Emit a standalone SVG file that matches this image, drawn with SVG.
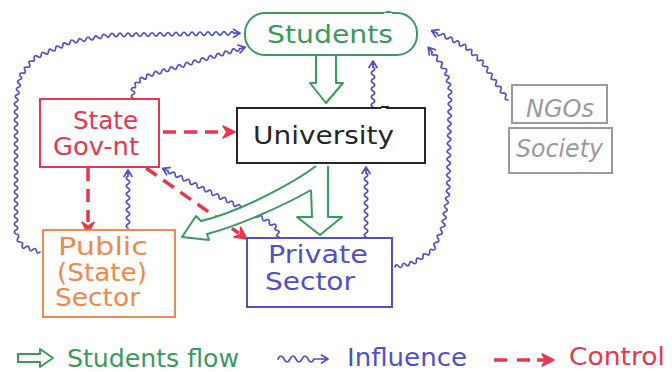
<svg xmlns="http://www.w3.org/2000/svg" xmlns:xlink="http://www.w3.org/1999/xlink" width="672" height="372" viewBox="0 0 672 372">
  <style>
    text { font-family: "DejaVu Sans", "Noto Sans", sans-serif; font-size: 24px; }
    .box { fill: #fff; stroke-width: 2; }
    .green { stroke: #3a9a5c; } .tgreen { fill: #3a9a5c; }
    .red { stroke: #e5384f; } .tred { fill: #e5384f; }
    .orange { stroke: #f0894c; } .torange { fill: #f0894c; }
    .blue { stroke: #5151c6; } .tblue { fill: #5151c6; }
    .black { stroke: #262626; } .tblack { fill: #262626; }
    .grey { stroke: #9a9a9a; } .tgrey { fill: #9a9a9a; font-style: italic; }
    .flow { fill: #fff; stroke: #3a9a5c; stroke-width: 2; stroke-linejoin: round; }
    .infl { fill: none; stroke: #5151c6; stroke-width: 1.7; stroke-linecap: round; stroke-linejoin: round; }
    .ctrl { fill: none; stroke: #e5384f; stroke-width: 3.5; stroke-dasharray: 13 8; }
    .ctrlhead { fill: #e5384f; stroke: #e5384f; stroke-width: 1.5; stroke-linejoin: round; }
  </style>
  <defs>
    <filter id="rough" x="-15%" y="-15%" width="130%" height="130%">
      <feTurbulence type="fractalNoise" baseFrequency="0.04" numOctaves="2" seed="4" result="n"/>
      <feDisplacementMap in="SourceGraphic" in2="n" scale="1.6" xChannelSelector="R" yChannelSelector="G"/>
    </filter>
    <!-- open head for influence connectors, tip at origin pointing +x -->
    <path id="ih" d="M-6.5 -4 L0 0 L-6.5 4 M-6 0 L0 0"/>
    <!-- solid head for control connectors -->
    <path id="ch" d="M0 0 L-12 -6 L-8 0 L-12 6 Z"/>
  </defs>

  <rect width="672" height="372" fill="#fff"/>

  <!-- connectors -->
  <g id="connectors">
    <!-- influence (wavy) -->
    <g class="infl">
      <!-- public sector -> students, around the left side -->
      <path d="M40 252 q-2.9 2.7 -3.6 -1.2 t-3.6 -1.2 -3.6 -1.2 -3.6 -1.2 -3.6 -1.2
        q2.1 -3.6 -2 -4 t-2 -4 -2 -4
        q-3.5 -2 0 -4 t0 -4 0 -4 0 -4 0 -4 0 -4 0 -4 0 -4 0 -4 0 -4 0 -4 0 -4 0 -4 0 -4 0 -4 0 -4 0 -4 0 -4 0 -4 0 -4 0 -4 0 -4 0 -4 0 -4 0 -4 0 -4 0 -4 0 -4 0 -4 0 -4 0 -4 0 -4 0 -4
        q3.75 -1.3 0.6 -3.7 t0.6 -3.7 0.6 -3.7 0.6 -3.7 0.6 -3.7 0.6 -3.7 0.6 -3.7
        q-1.6 -3.6 2.3 -3 t2.3 -3 2.3 -3 2.3 -3 2.3 -3 2.3 -3
        q0.4 -4 3.6 -1.6 t3.6 -1.6 3.6 -1.6 3.6 -1.6 3.6 -1.6 3.6 -1.6 3.6 -1.6 3.6 -1.6 3.6 -1.6 3.6 -1.6
        q1.4 -3.8 4 -0.7 t4 -0.7 4 -0.7 4 -0.7 4 -0.7 4 -0.7 4 -0.7 4 -0.7 4 -0.7 4 -0.7
        q2 -3.5 4 -0.06 t4 -0.06 4 -0.06 4 -0.06 4 -0.06 4 -0.06 4 -0.06 4 -0.06 4 -0.06 4 -0.06 4 -0.06 4 -0.06 4 -0.06 4 -0.06 4 -0.06 4 -0.06 4 -0.06 4 -0.06 4 -0.06 4 -0.06 4 -0.06 4 -0.06 4 -0.06 4 -0.06 4 -0.06 4 -0.06 4 -0.06 4 -0.06 4 -0.06 4 -0.06 4 -0.06"/>
      <use xlink:href="#ih" transform="translate(240 33.2)"/>

      <!-- state gov-nt -> students -->
      <path d="M133 98 q-3.5 -1.75 0 -3.5 t0 -3.5 0 -3.5
        q3.7 1.1 2.3 -2.5 t2.3 -2.5 2.3 -2.5
        q0 -4 3.3 -1.7 t3.3 -1.7 3.3 -1.7
        q2.9 2.8 3.9 -1.13 t3.9 -1.13 3.9 -1.13 3.9 -1.13 3.9 -1.13 3.9 -1.13 3.9 -1.13 3.9 -1.13 3.9 -1.13 3.9 -1.13 3.9 -1.13 3.9 -1.13 3.9 -1.13 3.9 -1.13 3.9 -1.13 3.9 -1.13 3.9 -1.13 3.9 -1.13 3.9 -1.13 3.9 -1.13 3.9 -1.13 3.9 -1.13 3.9 -1.13"/>
      <use xlink:href="#ih" transform="translate(245.3 47.2) rotate(-16)"/>

      <!-- university -> students -->
      <path transform="translate(373 107) rotate(-90)" d="M0 0 q2 -3.5 4 0 t4 0 4 0 4 0 4 0 4 0 4 0 4 0 4 0 4 0"/>
      <use xlink:href="#ih" transform="translate(373 61) rotate(-90)"/>

      <!-- private sector -> university -->
      <path transform="translate(366 237) rotate(-90)" d="M0 0 q2 -3.5 4 0 t4 0 4 0 4 0 4 0 4 0 4 0 4 0 4 0 4 0 4 0 4 0 4 0 4 0 4 0 4 0"/>
      <use xlink:href="#ih" transform="translate(366 167) rotate(-90)"/>

      <!-- private sector -> students, around the right side -->
      <path d="M395 267 q1 -3.8 3.6 -0.8 t3.6 -0.8 3.6 -0.8 3.6 -0.8 3.6 -0.8
        q3.6 1.85 3.33 -2.17 t3.33 -2.17 3.33 -2.17 3.33 -2.17 3.33 -2.17 3.33 -2.17
        q4 -0.5 1.67 -3.83 t1.67 -3.83 1.67 -3.83 1.67 -3.83 1.67 -3.83 1.67 -3.83
        q3.74 -1.38 0.56 -3.78 t0.56 -3.78 0.56 -3.78 0.56 -3.78 0.56 -3.78 0.56 -3.78 0.56 -3.78 0.56 -3.78 0.56 -3.78
        q-3.46 -2.05 0.08 -3.96 t0.08 -3.96 0.08 -3.96 0.08 -3.96 0.08 -3.96 0.08 -3.96 0.08 -3.96 0.08 -3.96 0.08 -3.96 0.08 -3.96 0.08 -3.96 0.08 -3.96 0.08 -3.96 0.08 -3.96 0.08 -3.96 0.08 -3.96 0.08 -3.96 0.08 -3.96 0.08 -3.96 0.08 -3.96 0.08 -3.96 0.08 -3.96 0.08 -3.96 0.08 -3.96 0.08 -3.96 0.08 -3.96
        q-3.8 -1 -0.8 -3.6 t-0.8 -3.6 -0.8 -3.6 -0.8 -3.6 -0.8 -3.6
        q1.8 -3.64 -2.25 -3.5 t-2.25 -3.5 -2.25 -3.5 -2.25 -3.5
        q1.45 -3.74 -2.5 -3 t-2.5 -3"/>
      <use xlink:href="#ih" transform="translate(428.2 47.4) rotate(-130)"/>

      <!-- ngos / society -> students -->
      <path d="M508 100 q-4 0.3 -2.4 -3.4 t-2.4 -3.4 -2.4 -3.4 -2.4 -3.4 -2.4 -3.4
        q1.85 -3.58 -2.17 -3.33 t-2.17 -3.33 -2.17 -3.33 -2.17 -3.33 -2.17 -3.33 -2.17 -3.33
        q1 -3.87 -2.83 -2.67 t-2.83 -2.67 -2.83 -2.67 -2.83 -2.67 -2.83 -2.67 -2.83 -2.67
        q-0.06 -4 -3.4 -1.8 t-3.4 -1.8 -3.4 -1.8 -3.4 -1.8 -3.4 -1.8
        q-3.35 2.4 -4 -1.67 t-4 -1.67 -4 -1.67"/>
      <use xlink:href="#ih" transform="translate(431.5 30.7) rotate(-157)"/>

      <!-- public sector -> state gov-nt -->
      <path transform="translate(128 228) rotate(-90)" d="M0 0 q2 -3.5 4 0 t4 0 4 0 4 0 4 0 4 0 4 0 4 0 4 0 4 0 4 0 4 0 4 0"/>
      <use xlink:href="#ih" transform="translate(128 170) rotate(-90)"/>

      <!-- private sector -> state gov-nt -->
      <path d="M279 237 q-3.85 -0.67 -1 -3.33 t-1 -3.33 -1 -3.33
        q0.34 -4 -3.33 -2.33 t-3.33 -2.33 -3.33 -2.33
        q-3.38 2.22 -3.63 -1.815 t-3.63 -1.815 -3.63 -1.815 -3.63 -1.815 -3.63 -1.815 -3.63 -1.815 -3.63 -1.815 -3.63 -1.815 -3.63 -1.815 -3.63 -1.815 -3.63 -1.815 -3.63 -1.815 -3.63 -1.815 -3.63 -1.815 -3.63 -1.815 -3.63 -1.815 -3.63 -1.815 -3.63 -1.815 -3.63 -1.815 -3.63 -1.815 -3.63 -1.815 -3.63 -1.815 -3.63 -1.815 -3.63 -1.815 -3.63 -1.815 -3.63 -1.815 -3.63 -1.815"/>
      <use xlink:href="#ih" transform="translate(162.6 168.3) rotate(-153.4)"/>
    </g>

    <!-- control (dashed) -->
    <path class="ctrl" d="M163 132 L224 132"/>
    <use class="ctrlhead" xlink:href="#ch" transform="translate(235 132)"/>
    <path class="ctrl" d="M88 168 L88 222"/>
    <use class="ctrlhead" xlink:href="#ch" transform="translate(88 234) rotate(90)"/>
    <path class="ctrl" d="M146 168 L238.8 233.2"/>
    <use class="ctrlhead" xlink:href="#ch" transform="translate(247 239) rotate(35.2)"/>

    <!-- students flow (hollow arrows) -->
    <path class="flow" d="M316 56 L316 83 L310 83 L326 103 L343 83 L336 83 L336 56"/>
    <path class="flow" d="M316 166 C295 182 240 212 201 221 L196 216 L182 237 L209 240 L207 234 C238 226 283 206 311 190"/>
    <path class="flow" d="M328 166 L328 217 L342 217 L320 235 L297 217 L312 217 L311 190"/>
  </g>

  <!-- nodes -->
  <g id="students">
    <rect class="box green" filter="url(#rough)" x="245" y="13" width="172" height="42" rx="20"/>
    <text class="tgreen" x="267" y="43" font-size="28" textLength="126" lengthAdjust="spacingAndGlyphs">Students</text>
  </g>
  <g id="university">
    <rect class="box black" filter="url(#rough)" x="237" y="108" width="188" height="55"/>
    <text class="tblack" x="253" y="144" font-size="28" textLength="141" lengthAdjust="spacingAndGlyphs">University</text>
  </g>
  <g id="state-govnt">
    <rect class="box red" filter="url(#rough)" x="40" y="99" width="119" height="68"/>
    <text class="tred" x="73" y="129" textLength="65" lengthAdjust="spacingAndGlyphs">State</text>
    <text class="tred" x="53" y="155" textLength="86" lengthAdjust="spacingAndGlyphs">Gov-nt</text>
  </g>
  <g id="public-sector">
    <rect class="box orange" filter="url(#rough)" x="43" y="230" width="132" height="87"/>
    <text class="torange" x="58" y="255" font-size="20" textLength="90" lengthAdjust="spacingAndGlyphs">Public</text>
    <text class="torange" x="57" y="280.5" font-size="20" textLength="90" lengthAdjust="spacingAndGlyphs">(State)</text>
    <text class="torange" x="55" y="306" font-size="20" textLength="85" lengthAdjust="spacingAndGlyphs">Sector</text>
  </g>
  <g id="private-sector">
    <rect class="box blue" filter="url(#rough)" x="247" y="238" width="145" height="69"/>
    <text class="tblue" x="268" y="263" textLength="100" lengthAdjust="spacingAndGlyphs">Private</text>
    <text class="tblue" x="265" y="290" textLength="90" lengthAdjust="spacingAndGlyphs">Sector</text>
  </g>
  <g id="ngos">
    <rect class="box grey" filter="url(#rough)" x="512" y="85" width="95" height="38"/>
    <text class="tgrey" x="526" y="117" font-size="23" textLength="68" lengthAdjust="spacingAndGlyphs">NGOs</text>
  </g>
  <g id="society">
    <rect class="box grey" filter="url(#rough)" x="509" y="128" width="103" height="45"/>
    <text class="tgrey" x="516" y="157" font-size="23" textLength="87" lengthAdjust="spacingAndGlyphs">Society</text>
  </g>

  <!-- legend -->
  <g id="legend">
    <path class="flow" d="M18 354 L40 354 L40 349 L53 358 L40 367 L40 362 L18 362 Z"/>
    <text class="tgreen" x="67" y="367" textLength="172" lengthAdjust="spacingAndGlyphs">Students flow</text>
    <path class="infl" d="M278 359 q3 -6 6 0 t6 0 6 0 6 0 6 0 6 0 M314 359 L322 359"/>
    <use class="infl" xlink:href="#ih" transform="translate(328 359)"/>
    <text class="tblue" x="347" y="366" textLength="120" lengthAdjust="spacingAndGlyphs">Influence</text>
    <path class="ctrl" d="M494 360 L510 360 M517 360 L531 360 M537 360 L545 360" stroke-dasharray="none"/>
    <use class="ctrlhead" xlink:href="#ch" transform="translate(554 360)"/>
    <text class="tred" x="569" y="365" textLength="96" lengthAdjust="spacingAndGlyphs">Control</text>
  </g>
</svg>
